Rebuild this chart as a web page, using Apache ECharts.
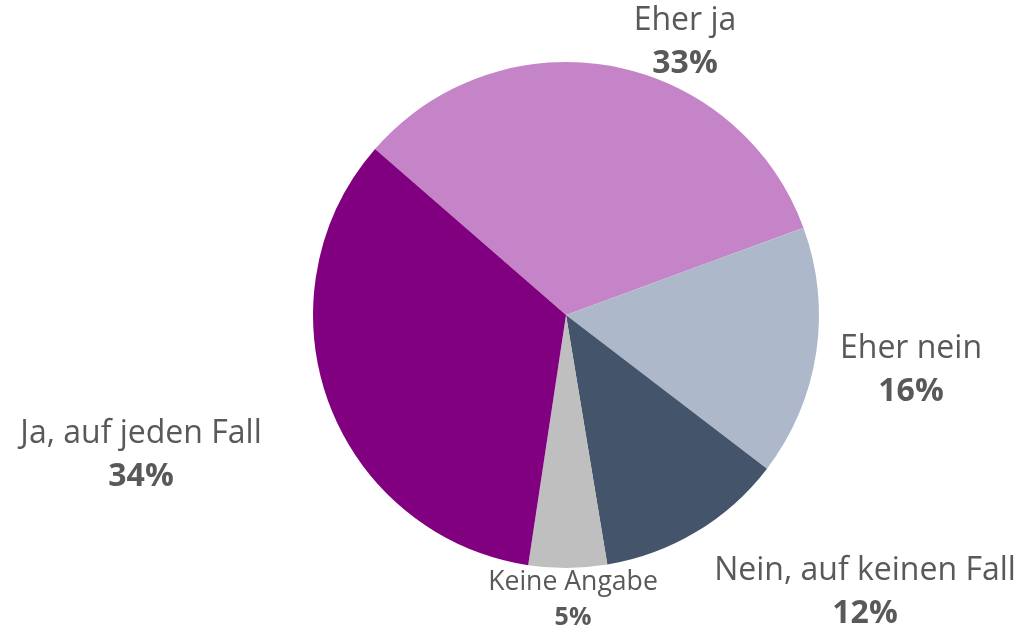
<!DOCTYPE html>
<html>
<head>
<meta charset="utf-8">
<title>Pie</title>
<script src="https://cdn.jsdelivr.net/npm/echarts@6/dist/echarts.min.js"></script>
<style>
    html, body { margin: 0; padding: 0; background: #fff; }
    #chart { width: 1019px; height: 632px; }
</style>
</head>
<body>
<div id="chart"></div>
<script>
// Daten
var categories = ['Eher ja', 'Eher nein', 'Nein, auf keinen Fall', 'Keine Angabe', 'Ja, auf jeden Fall'];
var values = [33, 16, 12, 5, 34];
var colors = ['#C584C7', '#ADB9CA', '#44546A', '#BFBFBF', '#800080'];

// Label-Mittelpunkte (Layout)
var labelPos = [[685, 42], [911, 370], [865, 592], [573, 600], [141, 455]];

var myChart = echarts.init(document.getElementById('chart'));

var pieData = categories.map(function (name, i) {
    return { name: name, value: values[i], itemStyle: { color: colors[i] } };
});

var option = {
    animation: false,
    series: [{
        type: 'pie',
        center: [566, 315],
        radius: 253,
        startAngle: 139,
        clockwise: true,
        percentPrecision: 0,
        data: pieData,
        emphasis: { disabled: true },
        labelLine: { show: false },
        label: {
            show: true,
            position: 'outside',
            overflow: 'none',
            fontFamily: 'Open Sans',
            color: '#595959',
            formatter: function (p) {
                if (p.dataIndex === 3) {
                    return '{ks|' + p.name + '}\n{kp|' + p.percent + '%}';
                }
                return '{n|' + p.name + '}\n{p|' + p.percent + '%}';
            },
            rich: {
                n: { fontFamily: 'Open Sans', fontSize: 32, color: '#595959', lineHeight: 43, align: 'center' },
                p: { fontFamily: 'Open Sans', fontSize: 32, fontWeight: 'bold', color: '#595959', lineHeight: 43, align: 'center' },
                ks: { fontFamily: 'Open Sans', fontSize: 26.6, color: '#595959', lineHeight: 36, align: 'center' },
                kp: { fontFamily: 'Open Sans', fontSize: 25, fontWeight: 'bold', color: '#595959', lineHeight: 36, align: 'center' }
            }
        },
        labelLayout: function (params) {
            var pos = labelPos[params.dataIndex];
            return { x: pos[0], y: pos[1], align: 'center', verticalAlign: 'middle' };
        }
    }]
};

myChart.setOption(option);
window.addEventListener('resize', function () { myChart.resize(); });
</script>
</body>
</html>
